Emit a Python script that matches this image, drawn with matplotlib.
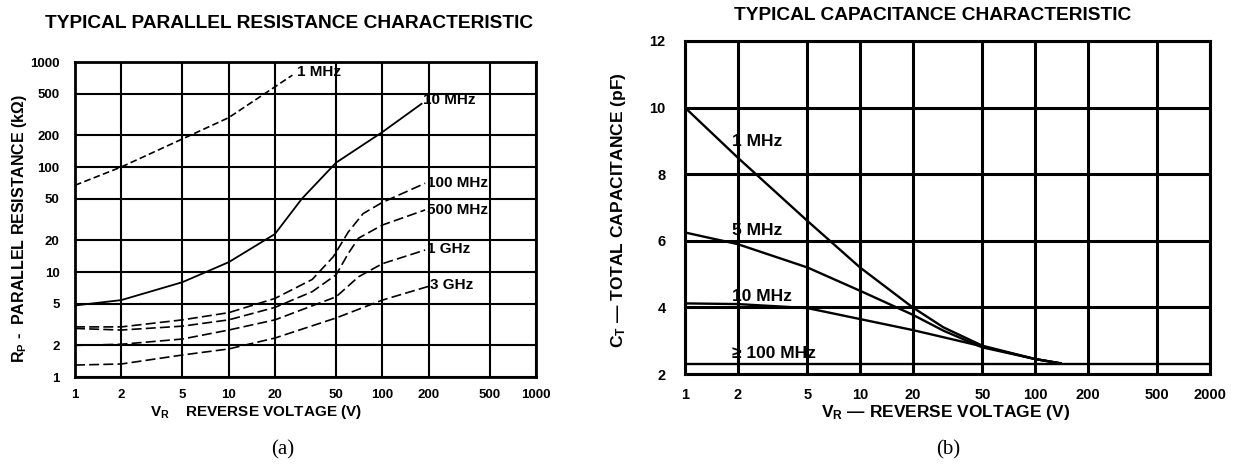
import matplotlib
matplotlib.use("Agg")
import matplotlib.pyplot as plt
from matplotlib.ticker import FixedLocator, FixedFormatter, NullLocator

plt.rcParams["font.family"] = ["Liberation Sans", "DejaVu Sans"]
plt.rcParams["font.weight"] = "bold"
plt.rcParams["mathtext.fontset"] = "custom"
plt.rcParams["mathtext.rm"] = "Liberation Sans:bold"
plt.rcParams["mathtext.it"] = "Liberation Sans:bold"
plt.rcParams["mathtext.default"] = "rm"

# (a) parallel resistance (kOhm) vs reverse voltage (V)
RP_1MHZ_V = [1, 2, 5, 10, 20, 26]
RP_1MHZ = [67, 100, 185, 295, 580, 750]
RP_10MHZ_V = [1, 2, 5, 10, 20, 30, 50, 100, 180]
RP_10MHZ = [4.8, 5.4, 8.0, 12.4, 23, 50, 110, 215, 400]
RP_100MHZ_V = [1, 2, 5, 10, 20, 35, 48, 60, 75, 100, 190]
RP_100MHZ = [3.0, 3.0, 3.5, 4.1, 5.6, 8.5, 14, 24, 36, 46, 70]
RP_500MHZ_V = [1, 2, 5, 10, 20, 35, 50, 60, 70, 100, 190]
RP_500MHZ = [2.9, 2.8, 3.05, 3.5, 4.6, 6.5, 9.4, 15, 21, 28, 39]
RP_1GHZ_V = [1, 2, 5, 10, 20, 50, 70, 100, 190]
RP_1GHZ = [2.0, 2.05, 2.3, 2.8, 3.5, 5.8, 9.0, 12, 16.2]
RP_3GHZ_V = [1, 2, 5, 10, 20, 50, 100, 200]
RP_3GHZ = [1.3, 1.33, 1.62, 1.85, 2.35, 3.65, 5.4, 7.3]

RP_TICKS = [1, 2, 5, 10, 20, 50, 100, 200, 500, 1000]
RP_TICK_LABELS = ["1", "2", "5", "10", "20", "50", "100", "200", "500", "1000"]

# (b) total capacitance (pF) vs reverse voltage (V)
CT_1MHZ_V = [1, 2, 5, 10, 20, 30, 50, 100, 140]
CT_1MHZ = [10.0, 8.5, 6.6, 5.2, 4.0, 3.4, 2.85, 2.45, 2.32]
CT_5MHZ_V = [1, 2, 5, 10, 20, 30, 50, 100, 140]
CT_5MHZ = [6.25, 5.9, 5.2, 4.5, 3.78, 3.3, 2.8, 2.45, 2.32]
CT_10MHZ_V = [1, 2, 5, 10, 20, 40, 100, 140]
CT_10MHZ = [4.12, 4.1, 3.98, 3.65, 3.32, 2.95, 2.45, 2.32]
CT_100MHZ_V = [1, 1000]
CT_100MHZ = [2.3, 2.3]

CT_XTICKS = [1, 2, 5, 10, 20, 50, 100, 200, 500, 1000]
CT_XTICK_LABELS = ["1", "2", "5", "10", "20", "50", "100", "200", "500", "2000"]
CT_YTICKS = [2, 4, 6, 8, 10, 12]

W, H = 1237, 471
fig = plt.figure(figsize=(W / 100, H / 100), dpi=100)


def px_rect(left, top, right, bottom):
    return [left / W, 1 - bottom / H, (right - left) / W, (bottom - top) / H]


# ---- (a) ----
ax = fig.add_axes(px_rect(75, 62, 536, 377))
ax.set_xscale("log")
ax.set_yscale("log")
ax.set_xlim(1, 1000)
ax.set_ylim(1, 1000)
dash = (0, (6, 2.5))
ax.plot(RP_1MHZ_V, RP_1MHZ, color="k", lw=1.2, ls=(0, (4, 2)))
ax.plot(RP_10MHZ_V, RP_10MHZ, color="k", lw=1.3)
ax.plot(RP_100MHZ_V, RP_100MHZ, color="k", lw=1.2, ls=dash)
ax.plot(RP_500MHZ_V, RP_500MHZ, color="k", lw=1.2, ls=dash)
ax.plot(RP_1GHZ_V, RP_1GHZ, color="k", lw=1.2, ls=dash)
ax.plot(RP_3GHZ_V, RP_3GHZ, color="k", lw=1.2, ls=dash)
for x, y, s in [(28, 800, "1 MHz"), (185, 430, "10 MHz"), (195, 70, "100 MHz"),
                (195, 39, "500 MHz"), (195, 16.5, "1 GHz"), (205, 7.5, "3 GHz")]:
    ax.text(x, y, s, fontsize=11, ha="left", va="center")
for a in (ax.xaxis, ax.yaxis):
    a.set_major_locator(FixedLocator(RP_TICKS))
    a.set_major_formatter(FixedFormatter(RP_TICK_LABELS))
    a.set_minor_locator(NullLocator())
ax.tick_params(length=0, labelsize=9.5)
ax.tick_params(axis="x", pad=9)
ax.tick_params(axis="y", pad=11)
ax.grid(True, color="k", lw=1.5)
for sp in ax.spines.values():
    sp.set_linewidth(2)

fig.text(289 / W, 1 - 23 / H, "TYPICAL PARALLEL RESISTANCE CHARACTERISTIC",
         ha="center", va="center", fontsize=13.8, fontweight="heavy")
fig.text(256 / W, 1 - 412 / H, "V$_R$    REVERSE VOLTAGE (V)",
         ha="center", va="center", fontsize=11)
fig.text(20 / W, 1 - 228 / H, "R$_P$ -  PARALLEL RESISTANCE (k\u03a9)",
         ha="center", va="center", rotation=90, fontsize=11.5)
fig.text(283 / W, 1 - 450 / H, "(a)", ha="center", va="center",
         fontsize=15, fontweight="normal", family="Liberation Serif")

# ---- (b) ----
bx = fig.add_axes(px_rect(685, 41, 1210, 374))
bx.set_xscale("log")
bx.set_xlim(1, 1000)
bx.set_ylim(2, 12)
for xs, ys in [(CT_1MHZ_V, CT_1MHZ), (CT_5MHZ_V, CT_5MHZ),
               (CT_10MHZ_V, CT_10MHZ), (CT_100MHZ_V, CT_100MHZ)]:
    bx.plot(xs, ys, color="k", lw=1.7)
for y, s in [(8.97, "1 MHz"), (6.3, "5 MHz"), (4.33, "10 MHz"), (2.63, "\u2265 100 MHz")]:
    bx.text(1.86, y, s, fontsize=12.5, ha="left", va="center")
bx.xaxis.set_major_locator(FixedLocator(CT_XTICKS))
bx.xaxis.set_major_formatter(FixedFormatter(CT_XTICK_LABELS))
bx.xaxis.set_minor_locator(NullLocator())
bx.set_yticks(CT_YTICKS)
bx.tick_params(length=0, labelsize=10.5)
bx.tick_params(axis="x", pad=10)
bx.tick_params(axis="y", pad=14)
bx.grid(True, color="k", lw=2.2)
for sp in bx.spines.values():
    sp.set_linewidth(2.2)

fig.text(933 / W, 1 - 15 / H, "TYPICAL CAPACITANCE CHARACTERISTIC",
         ha="center", va="center", fontsize=13.8, fontweight="heavy")
fig.text(946 / W, 1 - 413 / H, "V$_R$ \u2014 REVERSE VOLTAGE (V)",
         ha="center", va="center", fontsize=12.5)
fig.text(618 / W, 1 - 210 / H, "C$_T$ \u2014 TOTAL CAPACITANCE (pF)",
         ha="center", va="center", rotation=90, fontsize=12.5)
fig.text(948 / W, 1 - 450 / H, "(b)", ha="center", va="center",
         fontsize=15, fontweight="normal", family="Liberation Serif")

fig.savefig("out.png", dpi=100)
